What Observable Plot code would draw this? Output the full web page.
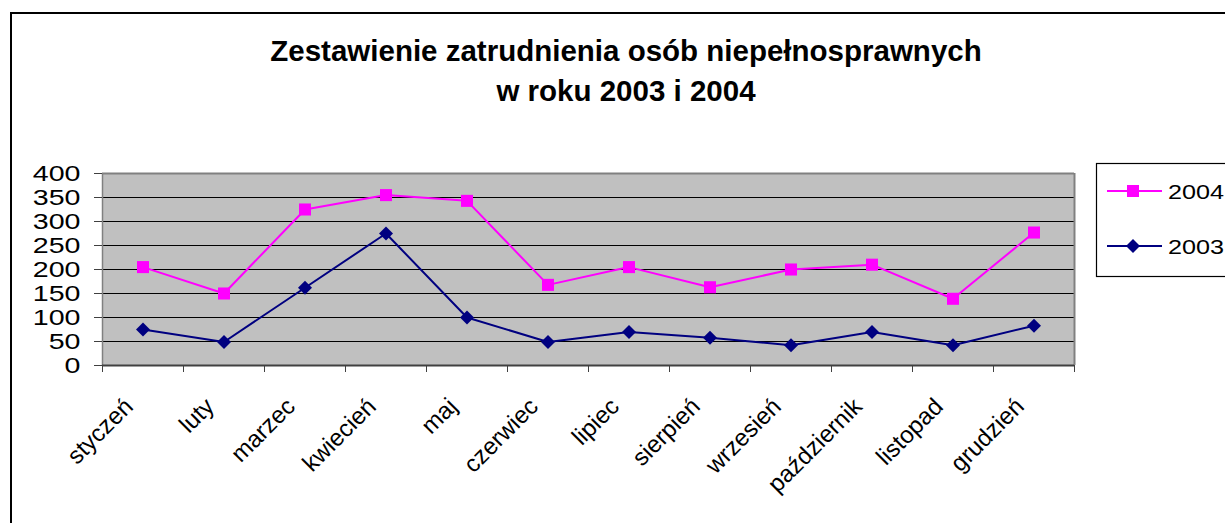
<!DOCTYPE html>
<html><head><meta charset="utf-8">
<script src="https://cdn.jsdelivr.net/npm/d3@7"></script>
<script src="https://cdn.jsdelivr.net/npm/@observablehq/plot@0.6"></script>
<style>
body{margin:0;background:#fff;font-family:"Liberation Sans",Arial,sans-serif;}
#wrap{position:relative;width:1225px;height:523px;overflow:hidden;background:#fff;}
#border{position:absolute;left:10px;top:12px;width:1400px;height:700px;border:2px solid #000;box-sizing:border-box;}
#title{position:absolute;left:0;width:1252px;top:31px;text-align:center;font-weight:bold;font-size:29.5px;line-height:40px;color:#000;}
#chart{position:absolute;left:0;top:0;}
#legend{position:absolute;left:0;top:0;}
</style>
</head><body>
<div id="wrap">
<div id="border"></div>
<div id="chart"></div>
<div id="title">Zestawienie zatrudnienia osób niepełnosprawnych<br>w roku 2003 i 2004</div>
<svg id="legend" width="1225" height="523"></svg>
</div>
<script>
const months = ["styczeń","luty","marzec","kwiecień","maj","czerwiec","lipiec","sierpień","wrzesień","październik","listopad","grudzień"];
const values2004 = [205,150,325,355,343,168,205,163,200,210,139,277];
const values2003 = [75,49,162,275,100,49,70,58,42,70,42,83];
const yTicks = [0,50,100,150,200,250,300,350,400];
const seriesNames = ["2004","2003"];
const seriesColors = ["#FF00FF","#000080"];

const d2004 = months.map((m,i)=>({month:m, i, v:values2004[i]}));
const d2003 = months.map((m,i)=>({month:m, i, v:values2003[i]}));

const plot = Plot.plot({
  width:1225, height:523,
  marginLeft:102, marginRight:151, marginTop:173, marginBottom:158,
  style:{background:"transparent", fontFamily:"'Liberation Sans', Arial, sans-serif", overflow:"visible", color:"#000"},
  x:{domain:[0,12], axis:null},
  y:{domain:[0,400], axis:null},
  marks:[
    Plot.frame({fill:"#C0C0C0", stroke:null}),
    Plot.ruleY(yTicks.filter(t=>t>0 && t<400), {stroke:"#000", strokeWidth:1}),
    Plot.ruleY([400], {stroke:"#808080", strokeWidth:2}),
    Plot.ruleX([12], {stroke:"#808080", strokeWidth:2}),
    Plot.ruleX([0], {stroke:"#808080", strokeWidth:1.5}),
    Plot.axisY({ticks:yTicks, tickSize:8, tickPadding:14, fontSize:22, stroke:"#404040", label:null}),
    Plot.axisX({ticks:d3.range(0,13), tickSize:7, tickFormat:()=>"", stroke:"#404040", label:null}),
    Plot.ruleY([0], {stroke:"#404040", strokeWidth:2}),
    Plot.text(months, {x:(d,i)=>i+0.5, y:()=>0, text:d=>d, rotate:-45, textAnchor:"end", fontSize:24, dy:37, dx:-14, fill:"#000", ariaLabel:"month labels"}),
    Plot.line(d2004, {x:d=>d.i+0.5, y:"v", stroke:seriesColors[0], strokeWidth:2}),
    Plot.line(d2003, {x:d=>d.i+0.5, y:"v", stroke:seriesColors[1], strokeWidth:2}),
    Plot.dot(d2004, {x:d=>d.i+0.5, y:"v", symbol:"square", r:6.8, fill:seriesColors[0], stroke:null}),
    Plot.dot(d2003, {x:d=>d.i+0.5, y:"v", symbol:"diamond2", r:6.3, fill:seriesColors[1], stroke:null})
  ]
});
document.getElementById("chart").appendChild(plot);
plot.querySelectorAll('[aria-label="y-axis tick label"] text').forEach(t=>{
  t.setAttribute("transform",(t.getAttribute("transform")||"")+" scale(1.3,1)");
});
plot.querySelectorAll('[aria-label="month labels"] text').forEach(t=>{
  t.setAttribute("transform",(t.getAttribute("transform")||"")+" scale(1.2,1)");
});

// legend
const lg = d3.select("#legend");
lg.append("rect").attr("x",1096.5).attr("y",163.5).attr("width",200).attr("height",113).attr("fill","#fff").attr("stroke","#000").attr("stroke-width",1.2);
const entryY = [191, 246];
seriesNames.forEach((name,k)=>{
  const y = entryY[k];
  lg.append("line").attr("x1",1107).attr("x2",1162).attr("y1",y).attr("y2",y).attr("stroke",seriesColors[k]).attr("stroke-width",2);
  const sym = k===0 ? d3.symbolSquare : d3.symbolDiamond2;
  const size = k===0 ? 6.8*6.8*Math.PI : 6.3*6.3*Math.PI;
  lg.append("path").attr("d",d3.symbol(sym,size)()).attr("transform",`translate(1133,${y})`).attr("fill",seriesColors[k]);
  lg.append("text").attr("transform",`translate(1168,${y+8}) scale(1.2,1)`).attr("font-size",21).attr("font-family","'Liberation Sans', Arial, sans-serif").text(name);
});
</script>
</body></html>
